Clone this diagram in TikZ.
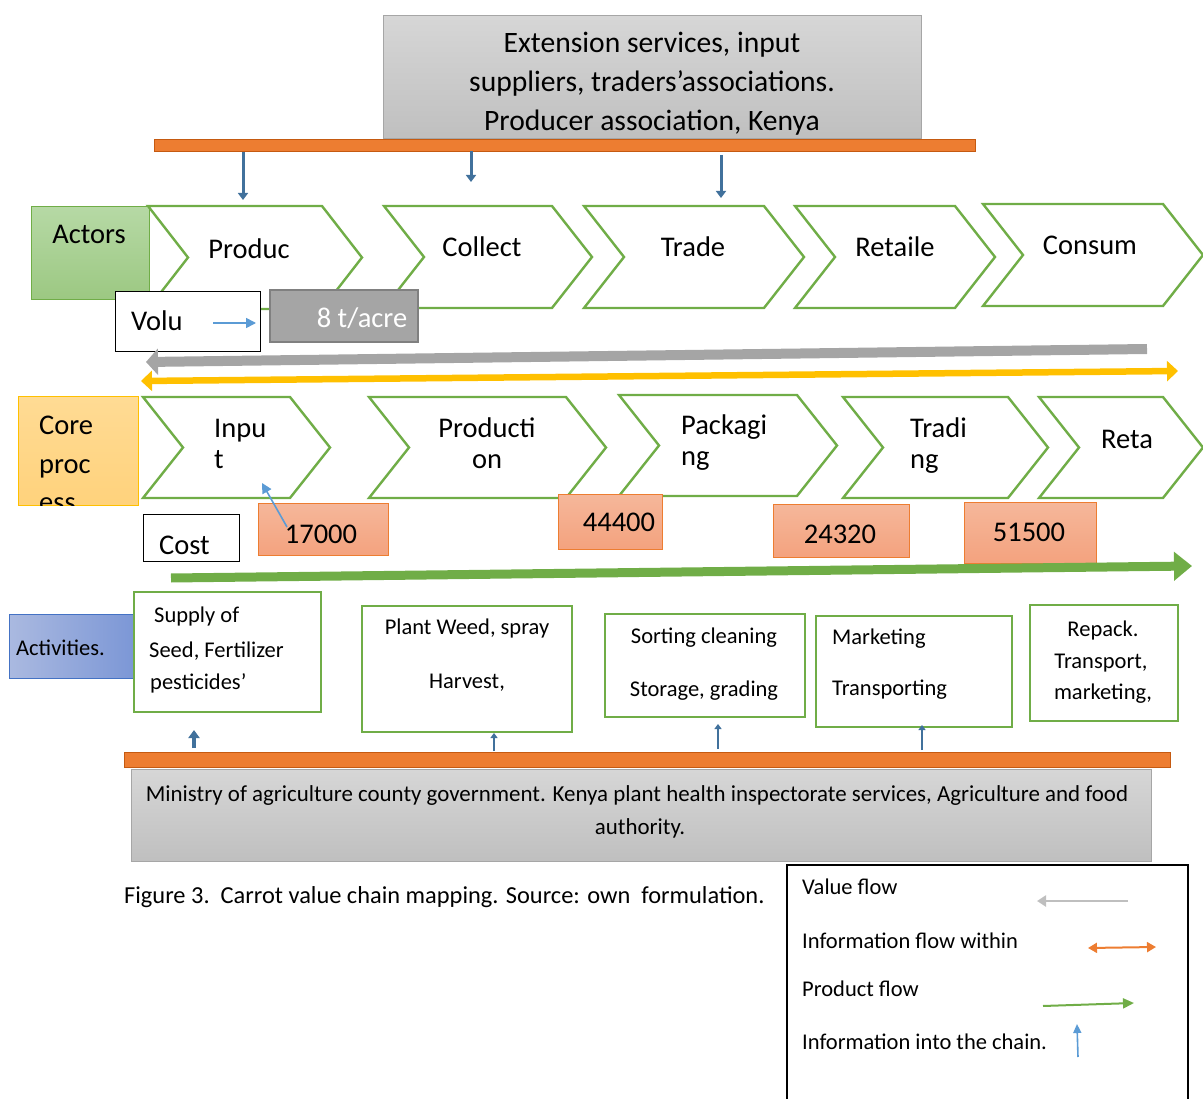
\documentclass[tikz,border=0pt]{standalone}
\usepackage{fontspec}
\setmainfont{Carlito}
\usetikzlibrary{arrows.meta}

\definecolor{chevgreen}{HTML}{70AD47}
\definecolor{barorange}{HTML}{ED7D31}
\definecolor{baredge}{HTML}{C55A11}
\definecolor{valgray}{HTML}{A5A5A5}
\definecolor{legendgray}{HTML}{BFBFBF}
\definecolor{infoyellow}{HTML}{FFC000}
\definecolor{infoblue}{HTML}{5B9BD5}
\definecolor{darkblue}{HTML}{41719C}
\definecolor{costtop}{HTML}{F5B79A}
\definecolor{costbot}{HTML}{F4A27E}
\definecolor{actortop}{HTML}{B6D9A5}
\definecolor{actorbot}{HTML}{9CC882}
\definecolor{coretop}{HTML}{FFDB94}
\definecolor{corebot}{HTML}{FFD27C}
\definecolor{actleft}{HTML}{AAB9E0}
\definecolor{actright}{HTML}{7C97D6}
\definecolor{actedge}{HTML}{4472C4}

\newcommand\bigf{\fontsize{28.5}{34}\selectfont}
\newcommand\topf{\fontsize{29.6}{35}\selectfont}
\newcommand\smallf{\fontsize{22.5}{27}\selectfont}
\newcommand\minf{\fontsize{22.9}{27}\selectfont}
\newcommand\capf{\fontsize{24.4}{29}\selectfont}

% chevron: name, left x, top y, shoulder x, bottom y
\newcommand\chevron[5]{%
  \draw[chev] (#2,#3) -- (#4,#3) -- ({#4+40},{(#3+#5)/2}) -- (#4,#5)
    -- (#2,#5) -- ({#2+40},{(#3+#5)/2}) -- cycle;
  \coordinate (#1) at ({(#2+#4)/2+20},{(#3+#5)/2});}

\begin{document}
\begin{tikzpicture}[x=1pt,y=-1pt,
  chev/.style={draw=chevgreen, line width=2.4pt, fill=white, line join=miter},
  boxbase/.style={inner sep=0, anchor=north west},
  graybox/.style={boxbase, draw=black!35, line width=1.2pt, top color=black!16, bottom color=black!25},
  bar/.style={boxbase, fill=barorange, draw=baredge, line width=1.2pt},
  plainbox/.style={boxbase, draw=black, line width=1.2pt, fill=white},
  costbox/.style={boxbase, draw=barorange, line width=1.2pt, top color=costtop, bottom color=costbot},
  actbox/.style={boxbase, draw=chevgreen, line width=1.8pt, fill=white},
  txt/.style={inner sep=0, anchor=base},
  txtl/.style={inner sep=0, anchor=base west},
  down/.style={draw=darkblue, line width=3pt, -{Triangle[length=7pt,width=10pt]}},
  up/.style={draw=darkblue, line width=2.6pt, -{Triangle[length=5pt,width=7pt]}},
  thinblue/.style={draw=infoblue, line width=1.6pt, -{Triangle[length=10pt,width=10pt]}}]

\useasboundingbox (0,0) rectangle (1203,1099);

% ---------- support services (top) ----------
\node[graybox, minimum width=538pt, minimum height=123pt] (ext) at (383,15) {};
\node[txt, font=\topf] (ext1) at (652,53) {Extension services, input};
\node[txt, font=\topf] (ext2) at (652,92) {suppliers, traders’associations.};
\node[txt, font=\topf] (ext3) at (652,131) {Producer association, Kenya};
\node[bar, minimum width=821pt, minimum height=12pt] (topbar) at (154,139) {};

% ---------- actors row ----------
\node[boxbase, draw=chevgreen, line width=1.2pt, top color=actortop, bottom color=actorbot,
      minimum width=118pt, minimum height=93pt] (actors) at (31,206) {};
\node[txt, font=\bigf] (actorslbl) at (89,244) {Actors};

\chevron{c-prod}{148}{206}{322}{309}
\chevron{c-coll}{384}{206}{552}{308}
\chevron{c-trade}{584}{206}{764}{308}
\chevron{c-ret}{795}{206}{955}{308}
\chevron{c-cons}{983}{204}{1163}{306}

\node[txt, font=\bigf] (produc) at (249,259) {Produc};
\node[txt, font=\bigf] (collect) at (482,257) {Collect};
\node[txt, font=\bigf] (trade) at (693,257) {Trade};
\node[txt, font=\bigf] (retaile) at (895,257) {Retaile};
\node[txt, font=\bigf] (consum) at (1090,255) {Consum};

% blue information arrows from the support bar
\coordinate (d1s) at (243,152); \coordinate (d1e) at (243,200);
\coordinate (d2s) at (471,151); \coordinate (d2e) at (471,182);
\coordinate (d3s) at (721,155); \coordinate (d3e) at (721,198);
\draw[down] (d1s) -- (d1e);
\draw[down] (d2s) -- (d2e);
\draw[down] (d3s) -- (d3e);

% volume
\node[plainbox, minimum width=145pt, minimum height=60pt] (volu) at (115,291) {};
\node[txtl, font=\bigf] (volulbl) at (131,331) {Volu};
\node[boxbase, fill=valgray, draw=black!50, line width=2pt,
      minimum width=148pt, minimum height=52pt] (vol) at (269,289) {};
\node[txt, font=\bigf, text=white] (vollbl) at (362,328) {8 t/acre};
\coordinate (va) at (213,323); \coordinate (vb) at (256,323);
\draw[thinblue] (va) -- (vb);

% value flow and information flow
\coordinate (vf-s) at (1147,349); \coordinate (vf-e) at (146,362);
\draw[valgray, line width=10pt, -{Triangle[length=12pt,width=26pt]}] (vf-s) -- (vf-e);
\coordinate (if-s) at (141,381); \coordinate (if-e) at (1178,371);
\draw[infoyellow, line width=6.5pt, {Triangle[length=11pt,width=20pt]}-{Triangle[length=11pt,width=20pt]}] (if-s) -- (if-e);

% ---------- core process row ----------
\node[boxbase, draw=infoyellow, line width=1.2pt, top color=coretop, bottom color=corebot,
      minimum width=120pt, minimum height=109pt] (core) at (18,396) {};
\begin{scope}
  \clip (18,396) rectangle (138,505);
  \node[txtl, font=\bigf] (core1) at (39,435) {Core};
  \node[txtl, font=\bigf] (core2) at (39,473) {proc};
  \node[txtl, font=\bigf] (core3) at (39,511) {ess};
\end{scope}

\chevron{p-in}{143}{397}{290}{498}
\chevron{p-prod}{369}{397}{566}{498}
\chevron{p-pack}{619}{395}{797}{496}
\chevron{p-trad}{843}{397}{1008}{498}
\chevron{p-ret}{1039}{397}{1163}{498}

\node[txtl, font=\bigf] (in1) at (214,438) {Inpu};
\node[txtl, font=\bigf] (in2) at (214,468) {t};
\node[txt, font=\bigf] (pr1) at (487,438) {Producti};
\node[txt, font=\bigf] (pr2) at (487,468) {on};
\node[txtl, font=\bigf] (pk1) at (681,435) {Packagi};
\node[txtl, font=\bigf] (pk2) at (681,465) {ng};
\node[txtl, font=\bigf] (tr1) at (910,438) {Tradi};
\node[txtl, font=\bigf] (tr2) at (910,468) {ng};
\node[txt, font=\bigf] (re1) at (1127,449) {Reta};

% costs
\node[plainbox, minimum width=96pt, minimum height=47pt] (cost) at (143,514) {};
\node[txtl, font=\bigf] (costlbl) at (159,554) {Cost};
\node[costbox, minimum width=130pt, minimum height=52pt] (k1) at (258,503) {};
\node[costbox, minimum width=104pt, minimum height=55pt] (k2) at (558,494) {};
\node[costbox, minimum width=136pt, minimum height=53pt] (k3) at (773,504) {};
\node[costbox, minimum width=132pt, minimum height=61pt] (k4) at (964,502) {};
\node[txt, font=\bigf] (k1l) at (321,543) {17000};
\node[txt, font=\bigf] (k2l) at (619,531) {44400};
\node[txt, font=\bigf] (k3l) at (840,543) {24320};
\node[txt, font=\bigf] (k4l) at (1029,541) {51500};
\coordinate (ka) at (287,527); \coordinate (kb) at (262,483);
\draw[thinblue] (ka) -- (kb);

% product flow
\coordinate (pf-s) at (171,578); \coordinate (pf-e) at (1192,566);
\draw[chevgreen, line width=9pt, -{Triangle[length=18pt,width=28pt]}] (pf-s) -- (pf-e);

% ---------- activities row ----------
\node[boxbase, draw=actedge, line width=1.2pt, left color=actleft, right color=actright,
      minimum width=124pt, minimum height=64pt] (acts) at (9,614) {};
\node[txtl, font=\smallf] (actslbl) at (16,655) {Activities.};

\node[actbox, minimum width=187pt, minimum height=120pt] (a1) at (133,591) {};
\node[actbox, minimum width=210pt, minimum height=126pt] (a2) at (361,605) {};
\node[actbox, minimum width=200pt, minimum height=103pt] (a3) at (604,613) {};
\node[actbox, minimum width=196pt, minimum height=111pt] (a4) at (815,615) {};
\node[actbox, minimum width=148pt, minimum height=116pt] (a5) at (1029,604) {};

\node[txtl, font=\smallf] (a1a) at (154,622) {Supply of};
\node[txtl, font=\smallf] (a1b) at (149,657) {Seed, Fertilizer};
\node[txtl, font=\smallf] (a1c) at (150,689) {pesticides’};
\node[txt, font=\smallf] (a2a) at (467,634) {Plant Weed, spray};
\node[txt, font=\smallf] (a2b) at (467,688) {Harvest,};
\node[txt, font=\smallf] (a3a) at (704,643) {Sorting cleaning};
\node[txt, font=\smallf] (a3b) at (704,696) {Storage, grading};
\node[txtl, font=\smallf] (a4a) at (832,644) {Marketing};
\node[txtl, font=\smallf] (a4b) at (832,695) {Transporting};
\node[txt, font=\smallf] (a5a) at (1103,636) {Repack.};
\node[txt, font=\smallf] (a5b) at (1101,668) {Transport,};
\node[txt, font=\smallf] (a5c) at (1103,699) {marketing,};

% ---------- regulators (bottom) ----------
\node[bar, minimum width=1046pt, minimum height=15pt] (botbar) at (124,752) {};
\node[graybox, minimum width=1020pt, minimum height=92pt] (min) at (131,769) {};
\node[txt, font=\minf] (min1) at (637,801) {Ministry of agriculture county government. Kenya plant health inspectorate services, Agriculture and food};
\node[txt, font=\minf] (min2) at (640,834) {authority.};

\coordinate (u1s) at (194,748); \coordinate (u1e) at (194,730);
\coordinate (u2s) at (494,751); \coordinate (u2e) at (494,733);
\coordinate (u3s) at (718,749); \coordinate (u3e) at (718,724);
\coordinate (u4s) at (922,750); \coordinate (u4e) at (922,725);
\draw[draw=darkblue, line width=4pt, -{Triangle[length=8pt,width=11pt]}] (u1s) -- (u1e);
\draw[up] (u2s) -- (u2e);
\draw[up] (u3s) -- (u3e);
\draw[up] (u4s) -- (u4e);

% caption
\node[txtl, font=\capf] (caption) at (124,903) {Figure 3.\ \ Carrot value chain mapping. Source: own\ \ formulation.};

% ---------- legend ----------
\draw[black, line width=1.2pt] (787,1110) -- (787,865) -- (1188,865) -- (1188,1110);
\node[txtl, font=\smallf] (lg1) at (802,894) {Value flow};
\node[txtl, font=\smallf] (lg2) at (802,948) {Information flow within};
\node[txtl, font=\smallf] (lg3) at (802,996) {Product flow};
\node[txtl, font=\smallf] (lg4) at (802,1049) {Information into the chain.};
\coordinate (l1s) at (1128,901); \coordinate (l1e) at (1037,901);
\draw[legendgray, line width=2.6pt, -{Triangle[length=9pt,width=11pt]}] (l1s) -- (l1e);
\coordinate (l2s) at (1088,948); \coordinate (l2e) at (1156,947);
\draw[barorange, line width=2pt, {Triangle[length=9pt,width=10pt]}-{Triangle[length=9pt,width=10pt]}] (l2s) -- (l2e);
\coordinate (l3s) at (1043,1006); \coordinate (l3e) at (1134,1003);
\draw[chevgreen, line width=2pt, -{Triangle[length=11pt,width=10pt]}] (l3s) -- (l3e);
\coordinate (l4s) at (1078,1057); \coordinate (l4e) at (1077,1024);
\draw[infoblue, line width=1.6pt, -{Triangle[length=9pt,width=8pt]}] (l4s) -- (l4e);

\end{tikzpicture}
\end{document}
